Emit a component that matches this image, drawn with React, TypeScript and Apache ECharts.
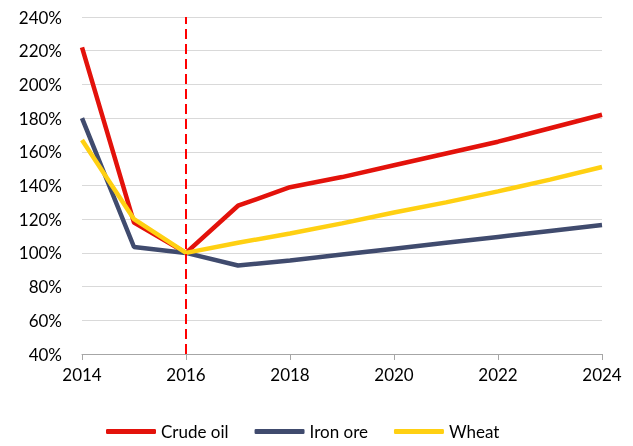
import React, { useEffect, useRef } from "react";
import * as echarts from "echarts";

const years = [2014, 2015, 2016, 2017, 2018, 2019, 2020, 2021, 2022, 2023, 2024];
const crudeOil = [222, 118, 100, 128, 139, 145, 152, 159, 166, 174, 182];
const ironOre = [180, 103.5, 100, 92.5, 95.5, 99, 102.5, 106, 109.5, 113, 116.5];
const wheat = [167, 120, 100, 106, 111.5, 117.5, 124, 130, 136.5, 143.5, 151];
const markerYear = 2016;

const FONT = "Lato, 'Open Sans', sans-serif";

export default function App() {
  const ref = useRef<HTMLDivElement>(null);
  useEffect(() => {
    if (!ref.current) return;
    const chart = echarts.init(ref.current, null, { renderer: "svg" });
    const mk = (vals: number[]) => years.map((y, i) => [y, vals[i]]);
    chart.setOption({
      animation: false,
      grid: { left: 82, right: 31, top: 17, bottom: 92, containLabel: false },
      legend: {
        bottom: 1,
        left: 101,
        icon: "roundRect",
        itemWidth: 50,
        itemHeight: 5,
        itemGap: 26,
        textStyle: { fontFamily: FONT, fontSize: 17, color: "#000" },
        data: ["Crude oil", "Iron ore", "Wheat"],
      },
      xAxis: {
        type: "value",
        min: 2014,
        max: 2024,
        interval: 2,
        axisLine: { lineStyle: { color: "#a6a6a6", width: 1 } },
        axisTick: { show: true, length: 6, lineStyle: { color: "#a6a6a6" } },
        splitLine: { show: false },
        axisLabel: {
          fontFamily: FONT,
          fontSize: 17,
          color: "#000",
          margin: 12,
          formatter: (v: number) => String(v),
        },
      },
      yAxis: {
        type: "value",
        min: 40,
        max: 240,
        interval: 20,
        axisLine: { show: false },
        axisTick: { show: false },
        splitLine: { lineStyle: { color: "#d9d9d9", width: 1 } },
        axisLabel: {
          fontFamily: FONT,
          fontSize: 17,
          color: "#000",
          margin: 20,
          formatter: (v: number) => v + "%",
        },
      },
      series: [
        {
          name: "Crude oil",
          type: "line",
          data: mk(crudeOil),
          symbol: "none",
          lineStyle: { color: "#E3120B", width: 4.5 },
          itemStyle: { color: "#E3120B" },
          markLine: {
            silent: true,
            symbol: "none",
            label: { show: false },
            lineStyle: { color: "#FF0000", width: 2, type: [10, 5] },
            data: [{ xAxis: markerYear }],
          },
        },
        {
          name: "Iron ore",
          type: "line",
          data: mk(ironOre),
          symbol: "none",
          lineStyle: { color: "#404B6E", width: 4.5 },
          itemStyle: { color: "#404B6E" },
        },
        {
          name: "Wheat",
          type: "line",
          data: mk(wheat),
          symbol: "none",
          lineStyle: { color: "#FFD012", width: 4.5 },
          itemStyle: { color: "#FFD012" },
        },
      ],
    });
    return () => chart.dispose();
  }, []);
  return (
    <div
      ref={ref}
      style={{ position: "fixed", left: 0, top: 0, width: 633, height: 446 }}
    />
  );
}
